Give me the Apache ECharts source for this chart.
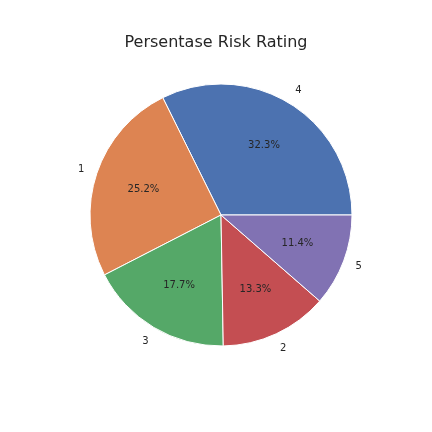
<!DOCTYPE html>
<html>
<head>
    <meta charset="utf-8"/>
    <title>Persentase Risk Rating</title>
    <script src="https://cdn.jsdelivr.net/npm/echarts@6/dist/echarts.min.js"></script>
    <style>
        html, body { margin: 0; padding: 0; background: #fff; }
        #chart { width: 432px; height: 432px; }
    </style>
</head>
<body>
<div id="chart"></div>
<script type="text/javascript">
    let categories = ['4', '1', '3', '2', '5'];
    let percents = [32.3, 25.2, 17.7, 13.3, 11.4];
    let colors = ['#4C72B0', '#DD8452', '#55A868', '#C44E52', '#8172B3'];

    let R = 131;
    let center = [221, 215];
    let pieData = categories.map(function (c, i) {
        return {name: c, value: percents[i], itemStyle: {color: colors[i]}};
    });
    let ghostData = categories.map(function (c, i) {
        return {name: c, value: percents[i], itemStyle: {color: 'rgba(0,0,0,0)', borderWidth: 0}};
    });
    let ghost = function (inner, outer, fmt) {
        return {
            type: 'pie', radius: [inner, outer], center: center,
            startAngle: 0, clockwise: false, silent: true,
            label: {show: true, position: 'inside', formatter: fmt,
                color: '#262626', fontSize: 10, fontFamily: 'DejaVu Sans'},
            labelLine: {show: false},
            emphasis: {disabled: true},
            data: ghostData
        };
    };

    let chart = echarts.init(document.getElementById('chart'));
    chart.setOption({
        animation: false,
        title: {
            text: 'Persentase Risk Rating', left: 'center', top: 30,
            textStyle: {fontSize: 16, fontWeight: 'normal', color: '#262626', fontFamily: 'DejaVu Sans'}
        },
        series: [
            {
                type: 'pie', radius: [0, R], center: center,
                startAngle: 0, clockwise: false,
                itemStyle: {borderColor: '#fff', borderWidth: 1},
                label: {show: false}, labelLine: {show: false},
                data: pieData
            },
            ghost(R * 0.2, R, function (p) { return p.value.toFixed(1) + '%'; }),
            ghost(R, R * 1.2, '{b}')
        ]
    });
</script>
</body>
</html>
